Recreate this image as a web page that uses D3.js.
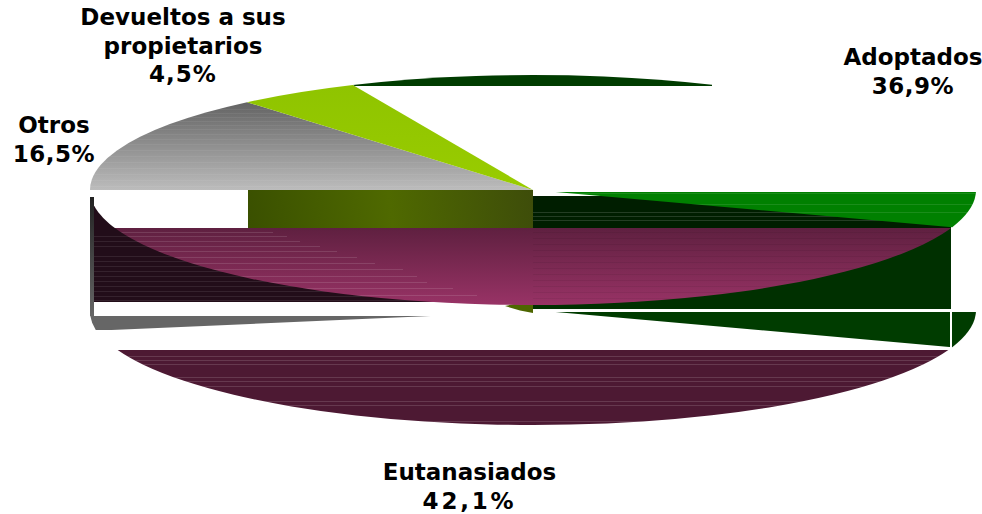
<!DOCTYPE html>
<html><head><meta charset="utf-8">
<script src="https://cdn.jsdelivr.net/npm/d3@7"></script>
<style>html,body{margin:0;padding:0;background:#fff}svg{display:block}
text{font-family:"DejaVu Sans",sans-serif;font-weight:700;font-size:23px;fill:#000;text-anchor:middle}</style>
</head><body><svg id="c" width="982" height="514"></svg>
<script>
// Data
const categories = ["Adoptados", "Eutanasiados", "Otros", "Devueltos a sus propietarios"];
const values = [36.9, 42.1, 16.5, 4.5];
const valueLabels = ["36,9%", "42,1%", "16,5%", "4,5%"];
const labelLines = [["Adoptados"], ["Eutanasiados"], ["Otros"], ["Devueltos a sus", "propietarios"]];
const labelAnchors = [[913, 65], [469.5, 480], [54, 133], [183, 25]];
const valueSpacing = [.5, 2.8, .5, 1];

// Geometry of the tilted pie
const cx = 533, cy = 190, rx = 443, ry = 115, depth = 120, startDeg = -24;
const svg = d3.select("#c");
const defs = svg.append("defs");
const pie = d3.pie().sort(null).value(d => d)
  .startAngle(startDeg * Math.PI / 180)
  .endAngle((startDeg + 360) * Math.PI / 180);
const slices = pie(values);
const arc = d3.arc().innerRadius(0).outerRadius(rx);
const wholeEllipse = d3.arc().innerRadius(0).outerRadius(rx).startAngle(0).endAngle(2 * Math.PI)();

// Gradient given in page y, converted to the squashed space of the face at offset dy
function grad(id, y1, y2, stops, dy = 0) {
  const loc = y => (y - cy - dy) * rx / ry;
  const g = defs.append("linearGradient").attr("id", id).attr("gradientUnits", "userSpaceOnUse")
    .attr("x1", 0).attr("x2", 0).attr("y1", loc(y1)).attr("y2", loc(y2));
  stops.forEach((s, i) => g.append("stop").attr("offset", i / (stops.length - 1)).attr("stop-color", s));
  return `url(#${id})`;
}
function pageGrad(id, x1, y1, x2, y2, stops) {
  const g = defs.append("linearGradient").attr("id", id).attr("gradientUnits", "userSpaceOnUse")
    .attr("x1", x1).attr("x2", x2).attr("y1", y1).attr("y2", y2);
  stops.forEach((s, i) => g.append("stop").attr("offset", i / (stops.length - 1)).attr("stop-color", s));
  return `url(#${id})`;
}
let clipN = 0;
function clipRect(x0, y0, x1, y1) {
  const id = "clip" + (clipN++);
  defs.append("clipPath").attr("id", id).append("rect")
    .attr("x", x0).attr("y", y0).attr("width", x1 - x0).attr("height", y1 - y0);
  return `url(#${id})`;
}
function face(pathD, dy, fill, band) {
  svg.append("g").attr("clip-path", clipRect(...band))
    .append("path").attr("d", pathD).attr("fill", fill)
    .attr("transform", `translate(${cx},${cy + dy}) scale(1,${ry / rx})`);
}
function box(x0, y0, x1, y1, fill) {
  svg.append("rect").attr("x", x0).attr("y", y0).attr("width", x1 - x0).attr("height", y1 - y0).attr("fill", fill);
}
// Streaks: [y, xEnd] rows from x0, optionally kept inside a face
function streaks(rows, x0, colour, opacity, shape, dy) {
  const g = svg.append("g");
  if (shape) {
    const id = "sh" + (clipN++);
    defs.append("clipPath").attr("id", id).append("path").attr("d", shape)
      .attr("transform", `translate(${cx},${cy + dy}) scale(1,${ry / rx})`);
    g.attr("clip-path", `url(#${id})`);
  }
  g.selectAll("line").data(rows).join("line")
    .attr("x1", x0).attr("x2", d => d[1]).attr("y1", d => d[0] + .5).attr("y2", d => d[0] + .5)
    .attr("stroke", colour).attr("stroke-opacity", opacity);
}
const rows = (ys, xEnd) => ys.map(y => [y, xEnd]);

const [adopt, euta, otros, devu] = slices.map(s => arc(s));

// Back walls
box(92, 197, 533, 302, "#220d19");
streaks(rows([236,241,246,256,261,266,271,276,281,286,291,296,300], 533), 94, "#ffffff", .09);
box(533, 196, 951, 228, "#001e00");
streaks(rows([212,216,220], 951), 533, "#ffffff", .14);
box(533, 228, 951, 309, "#003000");
box(90, 197, 94, 316, pageGrad("wall", 0, 197, 0, 316, ["#222222", "#666666"]));

// Ellipse cut-outs
face(wholeEllipse, 0, "#ffffff", [94, 190, 248, 228]);
box(248, 190, 533, 228, pageGrad("olive", 248, 228, 533, 190, ["#3a5000", "#4f6900", "#3e4d0a"]));
box(94, 302, 533, 316, "#ffffff");
box(533, 309, 982, 312, "#ffffff");

// Olive tip under the pie
svg.append("path")
  .attr("d", d3.line()([[505, 306], [533, 300], [533, 313], [520, 310.5]]))
  .attr("fill", "#4d6600");

// Top faces
face(adopt, 0, "#003c00", [300, 70, 712, 86]);
face(otros, 0, grad("grayTop", 103, 190, ["#646464", "#bcbcbc"]), [80, 90, 540, 190]);
face(devu, 0, grad("greenTop", 85, 190, ["#8fc400", "#99cc00"]), [240, 80, 540, 190]);
face(adopt, 0, "#008000", [540, 192, 982, 228]);
face(wholeEllipse, 0, grad("magenta", 228, 306, ["#5f2040", "#993366"]), [80, 228, 982, 320]);

// Bottom faces
face(adopt, depth, "#003c00", [533, 312, 982, 349]);
box(950, 312, 952, 350, "#ffffff");
face(otros, depth + 1.5, pageGrad("grayLow", 390, 0, 440, 0, ["#666666", "#ffffff"]), [80, 316, 540, 330]);
face(euta, depth, "#4d1933", [100, 350, 960, 440]);

// Banding left by the renderer
streaks(rows([109,113,117,121,125,129,134,139,144,150,156,162,168,174,180,186], 533), 80, "#ffffff", .06, otros, 0);
streaks([[232,273],[236,287],[241,300],[246,320],[251,337],[257,357],[263,375],[269,403],[276,417],[282,427],[288,453],[295,477]], 80, "#ffffff", .12, wholeEllipse, 0);
streaks(rows([232,238,244,250,256,262,268,274,280,286,292,298], 951), 533, "#000000", .06, wholeEllipse, 0);
streaks(rows([356,360,364,377,381,386,401,405,421], 960), 100, "#ffffff", .14, euta, depth);
streaks(rows([204,212,193], 982), 540, "#ffffff", .1, adopt, 0);

// Labels
const labels = svg.selectAll("g.lab").data(categories).join("g").attr("class", "lab")
  .attr("transform", (d, i) => `translate(${labelAnchors[i][0]},${labelAnchors[i][1]})`);
labels.each(function (d, i) {
  const lines = labelLines[i].concat(valueLabels[i]);
  d3.select(this).selectAll("text").data(lines).join("text")
    .attr("y", (t, j) => j * 28.5).text(t => t)
    .style("letter-spacing", (t, j) => j === lines.length - 1 ? valueSpacing[i] + "px" : null);
});
</script></body></html>
